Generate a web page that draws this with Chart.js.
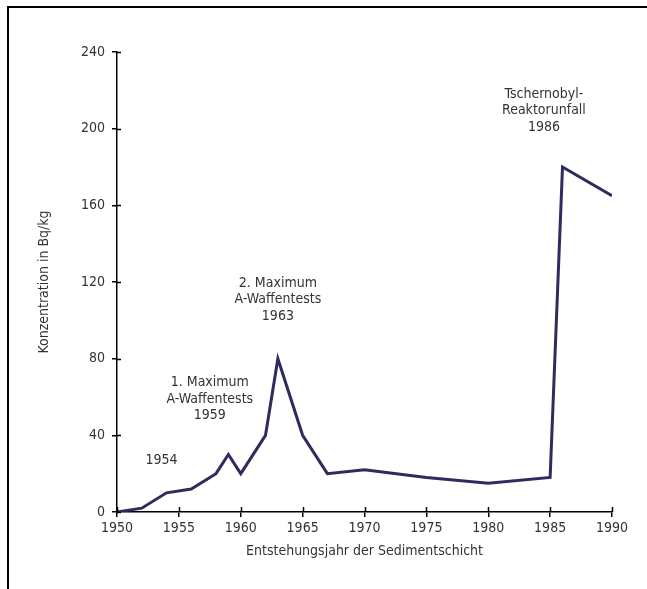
<!DOCTYPE html>
<html>
<head>
<meta charset="utf-8">
<script src="https://cdn.jsdelivr.net/npm/chart.js@4"></script>
<style>
  html, body { margin: 0; padding: 0; background: #fff; }
  #wrap { position: relative; width: 647px; height: 589px; }
  #frame { position: absolute; left: 7px; top: 6px; right: 0; bottom: 0;
           border-top: 2px solid #000; border-left: 2px solid #000; }
  canvas { position: absolute; left: 0; top: 0; }
</style>
</head>
<body>
<div id="wrap">
  <div id="frame"></div>
  <canvas id="chart" width="647" height="589"></canvas>
</div>
<script>
const jahre = [1950, 1952, 1954, 1956, 1958, 1959, 1960, 1962, 1963, 1965, 1967, 1970, 1975, 1980, 1985, 1986, 1990];
const konzentration = [0, 2, 10, 12, 20, 30, 20, 40, 80, 40, 20, 22, 18, 15, 18, 180, 165];
const xTicks = [1950, 1955, 1960, 1965, 1970, 1975, 1980, 1985, 1990];
const yTicks = [0, 40, 80, 120, 160, 200, 240];

// Beschriftungen: Text, Jahr, Wert (Mittelpunkt der ersten Zeile)
const hinweise = [
    { zeilen: ["1954"], x: 1953.6, y: 27 },
    { zeilen: ["1. Maximum", "A-Waffentests", "1959"], x: 1957.5, y: 67.5 },
    { zeilen: ["2. Maximum", "A-Waffentests", "1963"], x: 1963.0, y: 119.5 },
    { zeilen: ["Tschernobyl-", "Reaktorunfall", "1986"], x: 1984.5, y: 218 }
];

const schrift = "'Liberation Sans Narrow', 'DejaVu Sans Condensed', sans-serif";

const innenTicks = {
    id: "innenTicks",
    afterDraw(chart) {
        const ctx = chart.ctx;
        const xs = chart.scales.x, ys = chart.scales.y;
        ctx.save();
        ctx.strokeStyle = "#000";
        ctx.lineWidth = 1.5;
        ctx.beginPath();
        xTicks.forEach(v => {
            const px = Math.round(xs.getPixelForValue(v)) + 0.5;
            ctx.moveTo(px, ys.bottom);
            ctx.lineTo(px, ys.bottom - 5);
        });
        yTicks.forEach(v => {
            const py = Math.round(ys.getPixelForValue(v)) + 0.5;
            ctx.moveTo(xs.left, py);
            ctx.lineTo(xs.left + 4, py);
        });
        ctx.stroke();

        ctx.fillStyle = "#333";
        ctx.font = "14px " + schrift;
        ctx.textAlign = "center";
        ctx.textBaseline = "middle";
        hinweise.forEach(h => {
            const px = xs.getPixelForValue(h.x);
            const py = ys.getPixelForValue(h.y);
            h.zeilen.forEach((z, i) => ctx.fillText(z, px, py + i * 16.5));
        });
        ctx.restore();
    }
};

new Chart(document.getElementById("chart"), {
    type: "line",
    data: {
        datasets: [{
            data: jahre.map((j, i) => ({ x: j, y: konzentration[i] })),
            borderColor: "#2d2c5e",
            borderWidth: 3,
            pointRadius: 0,
            tension: 0,
            fill: false
        }]
    },
    options: {
        responsive: false,
        animation: false,
        layout: { padding: { left: 36, right: 35, top: 52, bottom: 29 } },
        plugins: { legend: { display: false }, tooltip: { enabled: false } },
        scales: {
            x: {
                type: "linear",
                min: 1950, max: 1990,
                afterBuildTicks: s => { s.ticks = xTicks.map(v => ({ value: v })); },
                afterFit: s => { s.height = 48; },
                border: { color: "#000", width: 1.5 },
                grid: { drawOnChartArea: false, color: "#000", lineWidth: 1.5, tickLength: 5 },
                ticks: { color: "#333", font: { family: schrift, size: 14 }, padding: 3, maxRotation: 0,
                         callback: v => String(v) },
                title: { display: true, text: "Entstehungsjahr der Sedimentschicht", color: "#333",
                         font: { family: schrift, size: 14 }, padding: { top: 0, bottom: 0 } }
            },
            y: {
                min: 0, max: 240,
                afterBuildTicks: s => { s.ticks = yTicks.map(v => ({ value: v })); },
                afterFit: s => { s.width = 81; },
                border: { color: "#000", width: 1.5 },
                grid: { drawOnChartArea: false, color: "#000", lineWidth: 1.5, tickLength: 5 },
                ticks: { color: "#333", font: { family: schrift, size: 14 }, padding: 7 },
                title: { display: true, text: "Konzentration in Bq/kg", color: "#333",
                         font: { family: schrift, size: 14 }, padding: { top: 0, bottom: 0 } }
            }
        }
    },
    plugins: [innenTicks]
});
</script>
</body>
</html>
